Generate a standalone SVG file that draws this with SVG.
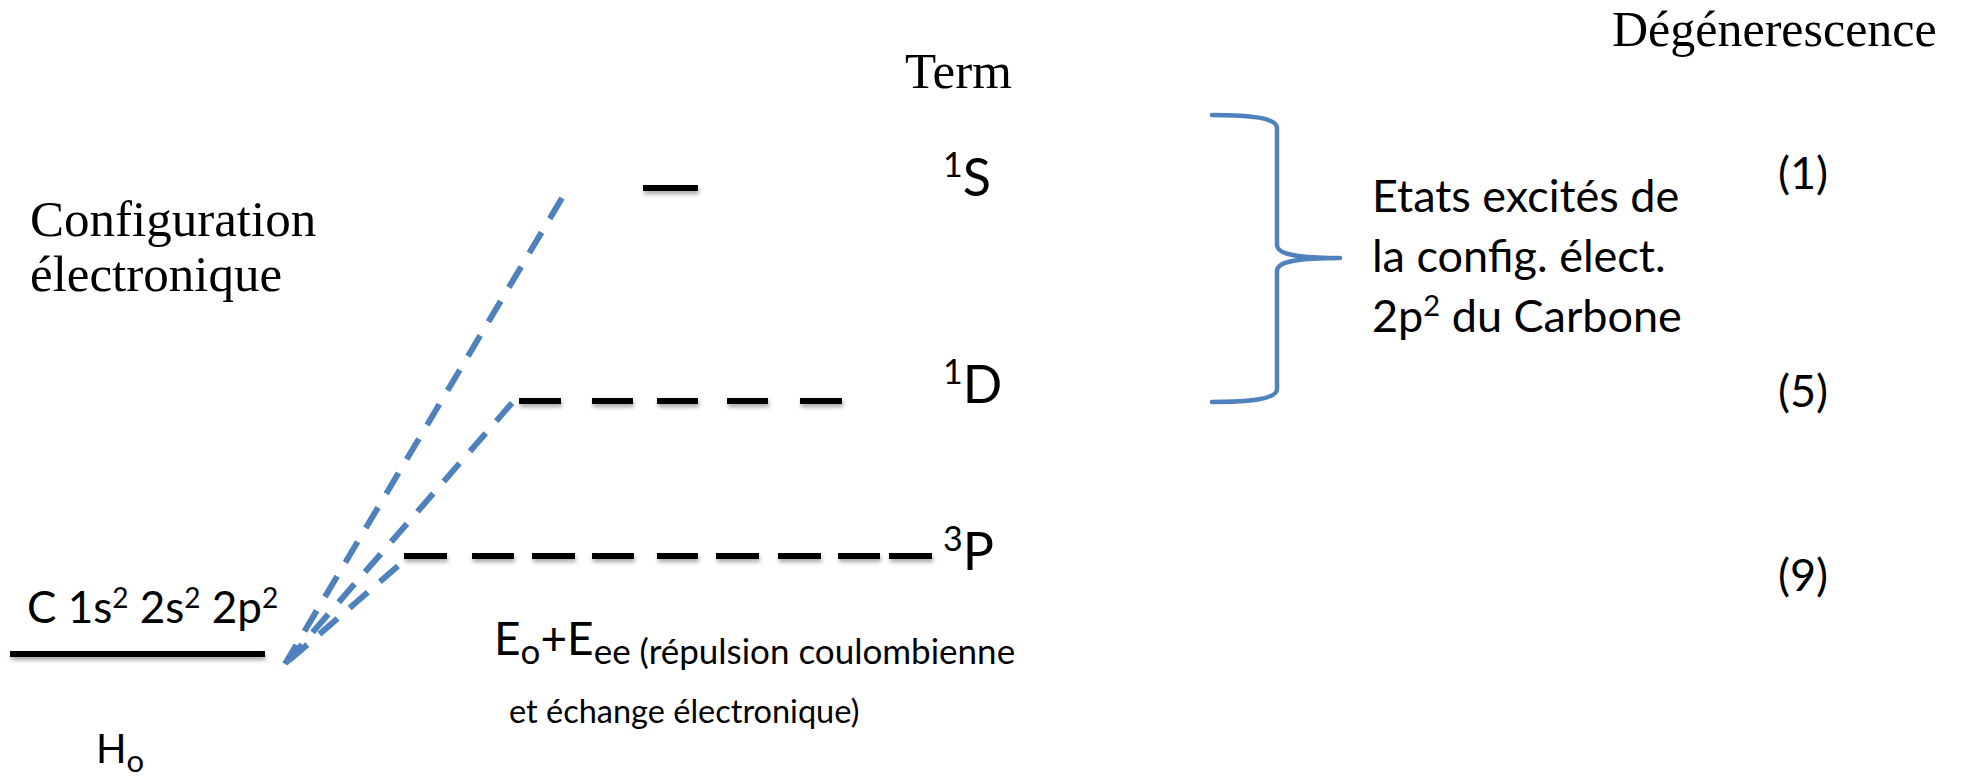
<svg xmlns="http://www.w3.org/2000/svg" width="1963" height="781" viewBox="0 0 1963 781">
<style>
.serif{font-family:"Liberation Serif","Times New Roman",serif;fill:#000}
.sans{font-family:Lato,"Open Sans",sans-serif;fill:#000}
.lvl{stroke:#000;stroke-width:6;fill:none;filter:url(#sh)}
.blue{stroke:#4F81BD;stroke-width:6;fill:none;stroke-dasharray:24 16}
.brace{stroke:#4F81BD;stroke-width:4.5;fill:none;stroke-linecap:round;stroke-linejoin:round}
</style>
<defs>
<filter id="sh" filterUnits="userSpaceOnUse" x="0" y="0" width="1963" height="781">
<feDropShadow dx="1" dy="3" stdDeviation="2" flood-color="#000" flood-opacity="0.35"/>
</filter>
</defs>
<rect width="1963" height="781" fill="#fff"/>

<g id="headers">
<text class="serif" x="30" y="236" font-size="51">Configuration</text>
<text class="serif" x="30" y="291" font-size="51">électronique</text>
<text class="serif" x="905" y="88" font-size="51">Term</text>
<text class="serif" x="1612" y="46" font-size="50">Dégénerescence</text>
</g>

<g id="ground">
<line class="lvl" x1="10" y1="654" x2="265" y2="654"/>
<text class="sans" x="27" y="623" font-size="44">C 1s<tspan font-size="28" dy="-15">2</tspan><tspan dy="15"> 2s</tspan><tspan font-size="28" dy="-15">2</tspan><tspan dy="15"> 2p</tspan><tspan font-size="28" dy="-15">2</tspan></text>
<text class="sans" x="96" y="763" font-size="40">H<tspan font-size="31" dy="9">o</tspan></text>
</g>

<g id="level-1S">
<line class="lvl" x1="643" y1="188" x2="698" y2="188"/>
<text class="sans" x="943" y="196" font-size="52"><tspan font-size="34" dy="-19">1</tspan><tspan dy="19">S</tspan></text>
<text class="sans" x="1778" y="189" font-size="45">(1)</text>
</g>

<g id="level-1D">
<path class="lvl" d="M519 401H561M592 401H633M657 401H698M727 401H768M800 401H842"/>
<text class="sans" x="943" y="403" font-size="52"><tspan font-size="34" dy="-19">1</tspan><tspan dy="19">D</tspan></text>
<text class="sans" x="1778" y="407" font-size="45">(5)</text>
</g>

<g id="level-3P">
<path class="lvl" d="M404 556H447M472 556H514M532 556H575M592 556H634M657 556H698M716 556H759M778 556H821M838 556H880M889 556H932"/>
<text class="sans" x="943" y="570" font-size="52"><tspan font-size="34" dy="-19">3</tspan><tspan dy="19">P</tspan></text>
<text class="sans" x="1778" y="591" font-size="45">(9)</text>
</g>

<g id="energy-label">
<text class="sans" x="494" y="655" font-size="46">E<tspan font-size="35" dy="9">o</tspan><tspan dy="-9">+E</tspan><tspan font-size="35" dy="9">ee (répulsion coulombienne</tspan></text>
<text class="sans" x="509" y="723" font-size="32.5">et  échange électronique)</text>
</g>

<g id="brace-group">
<path class="brace" d="M1212 115C1250 115 1277 118 1277 128V245C1277 255 1300 258 1340 258C1300 258 1277 261 1277 271V389C1277 399 1250 402 1212 402"/>
<text class="sans" font-size="45"><tspan x="1372" y="212">Etats excités de</tspan><tspan x="1372" y="272">la config. élect.</tspan><tspan x="1372" y="332">2p<tspan font-size="29" dy="-16">2</tspan><tspan dy="16"> du Carbone</tspan></tspan></text>
</g>

<g id="connectors">
<line class="blue" x1="562" y1="198" x2="285" y2="664"/>
<line class="blue" x1="512" y1="403" x2="285" y2="664"/>
<line class="blue" x1="398" y1="566" x2="285" y2="664"/>
</g>
</svg>
